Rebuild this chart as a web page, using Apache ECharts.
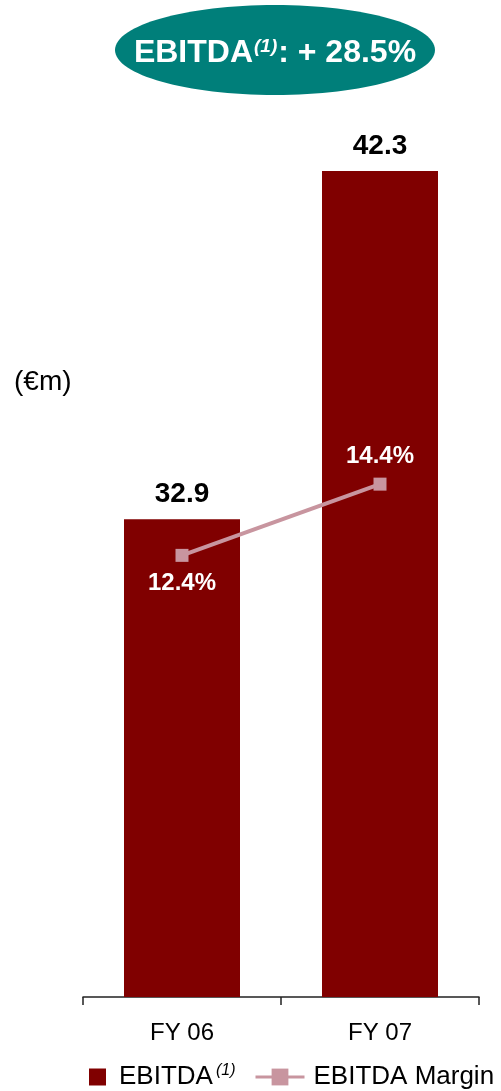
<!DOCTYPE html>
<html>
<head>
<meta charset="utf-8">
<script src="https://cdn.jsdelivr.net/npm/echarts@6/dist/echarts.min.js"></script>
<style>
  html, body { margin: 0; padding: 0; background: #fff; }
  #chart { width: 501px; height: 1091px; }
</style>
</head>
<body>
<div id="chart"></div>
<script>
// Categories and values
var categories = ['FY 06', 'FY 07'];
var ebitdaValues = [32.9, 42.3];      // €m
var marginValues = [12.4, 14.4];      // %
var headline = '+ 28.5%';
var unitLabel = '(€m)';

var FONT = '"Liberation Sans", Arial, sans-serif';
var BAR_COLOR = '#800000';
var LINE_COLOR = '#c8959f';

var chart = echarts.init(document.getElementById('chart'), null, { renderer: 'canvas' });

var option = {
  animation: false,
  backgroundColor: '#ffffff',
  grid: { left: 83, right: 22, top: 71, bottom: 94, containLabel: false },
  xAxis: {
    type: 'category',
    data: categories,
    axisLine: { show: true, onZero: false, lineStyle: { color: '#222', width: 1.5 } },
    axisTick: { show: true, length: 8, inside: false, lineStyle: { color: '#222', width: 1.5 } },
    axisLabel: { color: '#000', fontFamily: FONT, fontSize: 24, margin: 24 },
    splitLine: { show: false }
  },
  yAxis: [
    { type: 'value', min: 20, max: 45, show: false, splitLine: { show: false } },
    { type: 'value', min: 0, max: 26, show: false, splitLine: { show: false } }
  ],
  legend: [
    {
      data: ['EBITDA'],
      left: 84, top: 1058,
      itemWidth: 17, itemHeight: 17,
      icon: 'rect',
      formatter: function () { return '{n|EBITDA}{s|(1)}'; },
      textStyle: {
        color: '#000', fontFamily: FONT, fontSize: 26,
        padding: [0, 0, 0, 8],
        rich: {
          n: { fontFamily: FONT, fontSize: 26, color: '#000' },
          s: { fontFamily: FONT, fontSize: 16, fontStyle: 'italic', color: '#000', verticalAlign: 'top', padding: [0, 0, 12, 3] }
        }
      }
    },
    {
      data: ['EBITDA Margin'],
      left: 249, top: 1059,
      itemWidth: 49, itemHeight: 21,
      lineStyle: { width: 3 },
      textStyle: { color: '#000', fontFamily: FONT, fontSize: 26, padding: [0, 0, 0, 4] }
    }
  ],
  series: [
    {
      name: 'EBITDA',
      type: 'bar',
      data: ebitdaValues,
      barWidth: 116,
      clip: true,
      itemStyle: { color: BAR_COLOR },
      label: {
        show: true,
        position: 'top',
        distance: 11,
        color: '#000',
        fontFamily: FONT,
        fontWeight: 'bold',
        fontSize: 28,
        formatter: function (p) { return p.value.toFixed(1); }
      }
    },
    {
      name: 'EBITDA Margin',
      type: 'line',
      yAxisIndex: 1,
      data: marginValues.map(function (v, i) {
        return {
          value: v,
          label: { position: i === 0 ? 'bottom' : 'top', distance: i === 0 ? 10 : 9 }
        };
      }),
      symbol: 'rect',
      symbolSize: 13,
      itemStyle: { color: LINE_COLOR },
      lineStyle: { color: LINE_COLOR, width: 4 },
      label: {
        show: true,
        color: '#fff',
        fontFamily: FONT,
        fontWeight: 'bold',
        fontSize: 24,
        formatter: function (p) { return p.value.toFixed(1) + '%'; }
      }
    }
  ],
  graphic: [
    {
      type: 'ellipse',
      shape: { cx: 275, cy: 50, rx: 160, ry: 45 },
      style: { fill: '#007f7a' },
      z: 10
    },
    {
      type: 'text',
      x: 275, y: 53,
      z: 11,
      style: {
        text: '{a|EBITDA}{s|(1)}{a|: ' + headline + '}',
        align: 'center',
        verticalAlign: 'middle',
        fill: '#fff',
        rich: {
          a: { fontFamily: FONT, fontWeight: 'bold', fontSize: 32, fill: '#fff' },
          s: { fontFamily: FONT, fontWeight: 'bold', fontStyle: 'italic', fontSize: 19, fill: '#fff', verticalAlign: 'top', padding: [0, 1, 12, 1] }
        }
      }
    },
    {
      type: 'text',
      left: 14, top: 368,
      style: { text: unitLabel, fontFamily: FONT, fontSize: 28, fill: '#000' }
    }
  ]
};

chart.setOption(option);
</script>
</body>
</html>
